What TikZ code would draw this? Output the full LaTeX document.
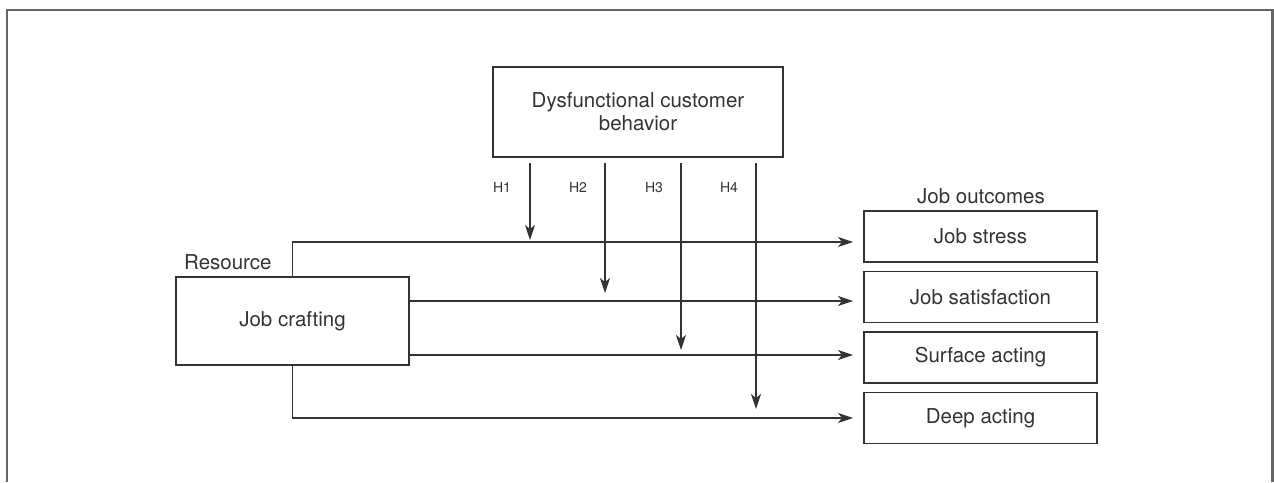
\documentclass[tikz,border=0pt]{standalone}
\usepackage{fontspec}
\setmainfont{TeX Gyre Heros}
\usetikzlibrary{arrows.meta,positioning}
\definecolor{ink}{HTML}{333333}
\definecolor{framegray}{HTML}{666666}
\begin{document}
\begin{tikzpicture}[x=1pt, y=-1pt, line cap=butt, line join=miter,
  box/.style={draw=ink, line width=1.4pt, inner sep=0pt, outer sep=0pt, minimum width=233pt, text=ink, align=center, font=\fontsize{20.5}{23}\selectfont},
  lbl/.style={text=ink, inner sep=0pt, font=\fontsize{20.5}{23}\selectfont},
  hlbl/.style={text=ink, inner sep=0pt, font=\fontsize{14}{16}\selectfont},
  link/.style={draw=ink, line width=1.4pt, -{Stealth[length=15pt,width=10pt,inset=4pt]}}]
\useasboundingbox (0,0) rectangle (1274,482);
\draw [color=framegray, line width=2.2pt] (7,482) -- (7,10) -- (1272.5,10) -- (1272.5,482);
% boxes
\node [box, minimum width=290pt, minimum height=90pt] (dcb) at (638,112) {Dysfunctional customer\\behavior};
\node [box, minimum height=88pt] (craft) at (292.5,321) {Job crafting};
\node [box, minimum height=51pt] (stress) at (980.5,236.5) {Job stress};
\node [box, minimum height=51pt, below=9.5pt of stress] (sat) {Job satisfaction};
\node [box, minimum height=51pt, below=9.5pt of sat] (surface) {Surface acting};
\node [box, minimum height=51pt, below=9.5pt of surface] (deep) {Deep acting};
\node [lbl] (outcomes) at (981,196) {Job outcomes};
\node [lbl, anchor=west] (resource) at (184,262) {Resource};
% main effects
\draw [link, shorten >=11pt] (craft.north) |- ([yshift=-5.5pt]stress.west);
\draw [link, shorten >=11pt] ([yshift=20pt]craft.east) coordinate (c2) -- (c2 -| sat.west);
\draw [link, shorten >=11pt] ([yshift=-34pt]craft.east) coordinate (c3) -- (c3 -| surface.west);
\draw [link, shorten >=11pt] (craft.south) |- (deep.west);
% moderation
\draw [link] ([xshift=-108pt,yshift=-6pt]dcb.south) coordinate (h1) -- (h1 |- 0,240);
\draw [link] ([xshift=-33pt,yshift=-6pt]dcb.south) coordinate (h2) -- (h2 |- 0,293);
\draw [link] ([xshift=43pt,yshift=-6pt]dcb.south) coordinate (h3) -- (h3 |- 0,350);
\draw [link] ([xshift=118pt,yshift=-6pt]dcb.south) coordinate (h4) -- (h4 |- 0,409);
\node [hlbl] (l1) at (502,187) {H1};
\node [hlbl] (l2) at (578,187) {H2};
\node [hlbl] (l3) at (654,187) {H3};
\node [hlbl] (l4) at (729,187) {H4};
\end{tikzpicture}
\end{document}
